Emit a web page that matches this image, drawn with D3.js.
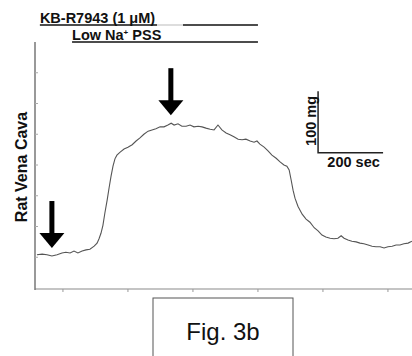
<!DOCTYPE html>
<html>
<head>
<meta charset="utf-8">
<script src="https://cdn.jsdelivr.net/npm/d3@7"></script>
<style>
  body { margin: 0; background: #fff; }
  text { font-family: "Liberation Sans", Arial, sans-serif; }
</style>
</head>
<body>
<div class="chart"></div>
<script>
// trace: time (s) and tension (mg)
let times = [120,136,151,166,182,197,209,222,234,246,259,271,283,296,305,311,317,323,329,336,
  342,348,354,360,366,376,388,400,413,425,437,449,462,474,486,499,511,523,533,542,
  554,566,579,591,603,616,628,640,653,665,677,689,702,714,726,739,751,763,776,788,
  797,806,819,831,843,856,868,880,889,896,902,908,914,923,936,948,960,973,985,997,
  1009,1022,1034,1046,1056,1065,1077,1089,1102,1114,1126,1139,1151,1163,1176,1188,1200,1213,1225,1237,
  1249,1262,1274]
let tension = [54,55,54,52,54,57,58,57,60,57,60,62,63,68,73,80,89,102,122,143,
  163,182,198,210,216,221,226,229,233,239,244,250,255,257,259,262,262,265,268,265,
  267,263,263,265,262,263,262,260,258,257,265,257,252,249,246,242,241,242,239,237,
  239,234,229,223,216,211,205,200,198,192,176,159,146,133,120,112,107,98,93,86,
  83,81,80,81,85,81,78,76,75,73,72,70,68,67,67,65,67,68,70,70,
  72,73,76]

let xTicks = [200, 400, 600, 800, 1000, 1200]
let yTicks = [50, 100, 150, 200, 250, 300, 350]

// arrows (time, tip tension)
let arrowTimes = [166, 532]
let arrowTips = [65, 281]

// treatment bars
let bars = [
  { label: "KB-R7943 (1 \u03bcM)", start: 129, end: 800 },
  { label: "Low Na", sup: "+", after: " PSS", start: 228, end: 800 }
]

let scaleBarTime = 200
let scaleBarMg = 100

let width = 412
let height = 356

let svg = d3.select(".chart")
  .append("svg")
  .attr("width", width)
  .attr("height", height)

let x = d3.scaleLinear().domain([114, 1274]).range([35, 412])
let y = d3.scaleLinear().domain([0, 400]).range([288, 42])

// axes
svg.append("line")
  .attr("x1", 35).attr("x2", 412)
  .attr("y1", 289).attr("y2", 289)
  .attr("stroke", "#c4c4c4").attr("stroke-width", 2)

svg.selectAll(".xt")
  .data(xTicks)
  .enter()
  .append("line")
  .attr("x1", d => x(d)).attr("x2", d => x(d))
  .attr("y1", 289).attr("y2", 292)
  .attr("stroke", "#999")

svg.append("line")
  .attr("x1", 35).attr("x2", 35)
  .attr("y1", y(400)).attr("y2", 290)
  .attr("stroke", "#777").attr("stroke-width", 1.5)

svg.selectAll(".yt")
  .data(yTicks)
  .enter()
  .append("line")
  .attr("x1", 35).attr("x2", 38)
  .attr("y1", d => y(d)).attr("y2", d => y(d))
  .attr("stroke", "#aaa")

svg.append("text")
  .attr("transform", "translate(27," + 167 + ") rotate(-90)")
  .attr("text-anchor", "middle")
  .attr("font-size", 16)
  .attr("font-weight", "bold")
  .attr("fill", "#111")
  .text("Rat Vena Cava")

// trace
let line = d3.line()
  .x(d => x(d[0]))
  .y(d => y(d[1]))

svg.append("path")
  .datum(times.map((t, i) => [t, tension[i]]))
  .attr("d", line)
  .attr("fill", "none")
  .attr("stroke", "#555")
  .attr("stroke-width", 1.1)

// arrows
let arrows = svg.selectAll(".arrow")
  .data(arrowTimes.map((t, i) => [t, arrowTips[i]]))
  .enter()
  .append("g")
  .attr("transform", d => "translate(" + x(d[0]) + "," + y(d[1]) + ")")

arrows.append("rect")
  .attr("x", -2.5).attr("y", -47)
  .attr("width", 5).attr("height", 34)
  .attr("fill", "#000")

arrows.append("path")
  .attr("d", "M-12.5,-15 L12.5,-15 L0,0 Z")
  .attr("fill", "#000")

// treatment bars
let barY = [25, 42]
bars.forEach((b, i) => {
  svg.append("line")
    .attr("x1", x(b.start)).attr("x2", x(b.end))
    .attr("y1", barY[i]).attr("y2", barY[i])
    .attr("stroke", "#111").attr("stroke-width", 1.6)
  let t = svg.append("text")
    .attr("x", x(b.start))
    .attr("y", barY[i] - 2)
    .attr("font-size", 14.5)
    .attr("font-weight", "bold")
    .attr("fill", "#111")
  t.append("tspan").text(b.label)
  if (b.sup) {
    t.append("tspan").attr("dy", -5).attr("font-size", 8).text(b.sup)
    t.append("tspan").attr("dy", 5).text(b.after)
  }
})
// lighter stretch of the KB-R7943 line after its label
svg.append("line")
  .attr("x1", 157).attr("x2", 183)
  .attr("y1", barY[0]).attr("y2", barY[0])
  .attr("stroke", "#fff").attr("stroke-width", 2)
svg.append("line")
  .attr("x1", 157).attr("x2", 183)
  .attr("y1", barY[0]).attr("y2", barY[0])
  .attr("stroke", "#bbb").attr("stroke-width", 1)

// scale bar
let sbT = 985
let sbV = 220
svg.append("path")
  .attr("d", "M" + x(sbT) + "," + y(sbV + scaleBarMg) + " L" + x(sbT) + "," + y(sbV) + " L" + x(sbT + scaleBarTime) + "," + y(sbV))
  .attr("fill", "none")
  .attr("stroke", "#222").attr("stroke-width", 1.5)

svg.append("text")
  .attr("transform", "translate(" + (x(sbT) - 2) + "," + (y(sbV + scaleBarMg / 2) - 1) + ") rotate(-90)")
  .attr("text-anchor", "middle")
  .attr("font-size", 14.5)
  .attr("font-weight", "bold")
  .attr("fill", "#111")
  .text(scaleBarMg + " mg")

svg.append("text")
  .attr("x", x(sbT + scaleBarTime / 2) + 3)
  .attr("y", y(sbV) + 14)
  .attr("text-anchor", "middle")
  .attr("font-size", 14.5)
  .attr("font-weight", "bold")
  .attr("fill", "#111")
  .text(scaleBarTime + " sec")

// figure label box
svg.append("rect")
  .attr("x", 153).attr("y", 298)
  .attr("width", 140).attr("height", 70)
  .attr("fill", "none")
  .attr("stroke", "#555")

svg.append("text")
  .attr("x", 223).attr("y", 340)
  .attr("text-anchor", "middle")
  .attr("font-size", 24)
  .attr("fill", "#111")
  .text("Fig. 3b")
</script>
</body>
</html>
